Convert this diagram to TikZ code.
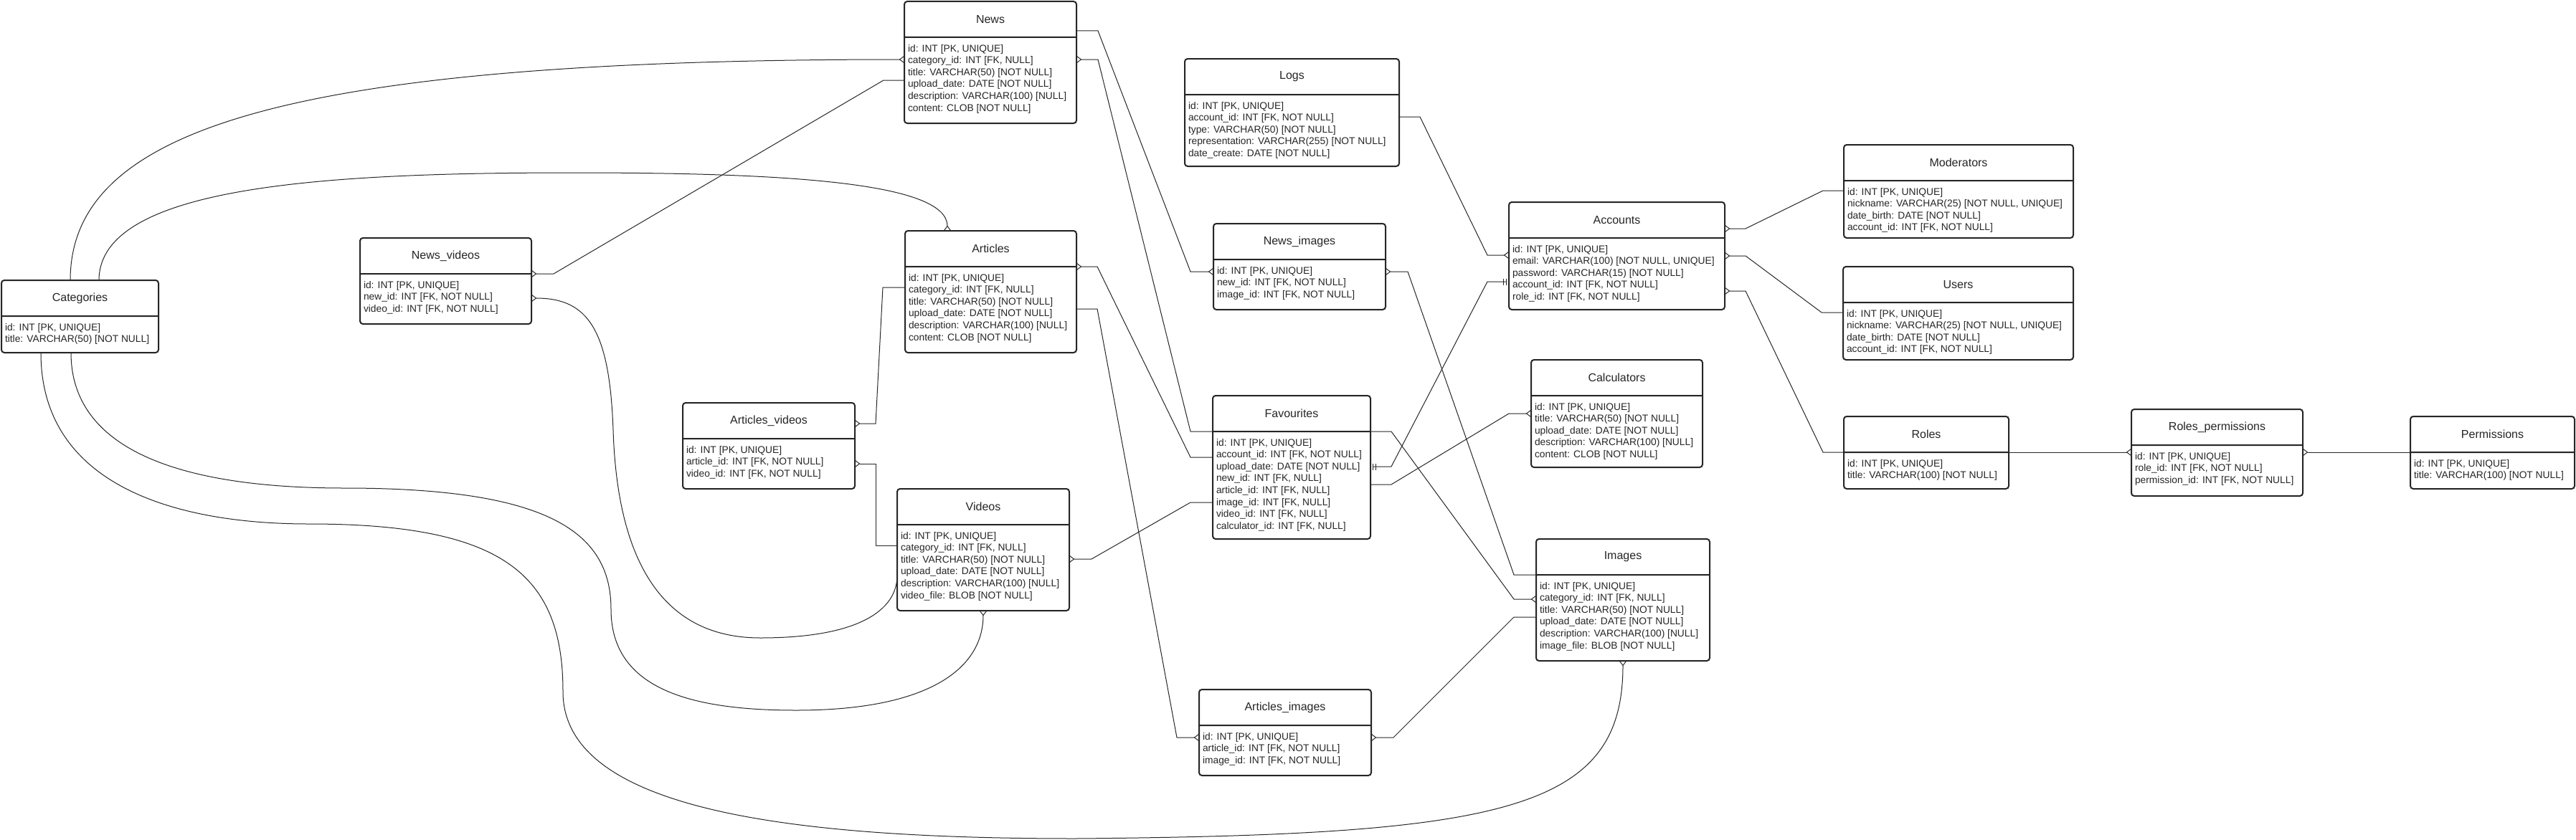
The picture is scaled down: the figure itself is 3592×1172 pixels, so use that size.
\documentclass[tikz,border=0pt]{standalone}
\usepackage{fontspec}
\setmainfont{Liberation Sans}
\usepackage{tikz}
\usetikzlibrary{shapes.multipart, arrows.meta, calc}

\newcommand{\ehead}[2]{\parbox[c][48pt][c]{#1pt}{\centering\fontsize{16pt}{19pt}\selectfont #2}}
\newcommand{\ebody}[3]{\parbox[c][\dimexpr#2pt-2pt\relax][t]{#1pt}{\fontsize{13.8pt}{16.6pt}\selectfont\raggedright\leftskip=5pt\rule{0pt}{19pt}#3}}

\tikzstyle{entity} = [rectangle split, rectangle split parts=2, draw=black!85, line width=2pt, rounded corners=4pt, inner sep=0pt, outer sep=0pt, anchor=north west, fill=white, text=black!85]
\tikzstyle{link} = [line width=1pt, draw=black!85]
\tikzset{crowfoot/.tip={Straight Barb[reversed, length=6pt, width=9pt, line width=1pt]}}
\tikzset{onebar/.tip={Bar[width=9pt, line width=1pt, sep=3pt] Bar[width=9pt, line width=1pt, sep=3pt]}}

\begin{document}
\begin{tikzpicture}[x=1pt, y=-1pt]
		\useasboundingbox (0,0) rectangle (3592,1172);
		
		% Content tables
		\node (news) [entity] at (1261,2) {\ehead{240}{News}\nodepart{two}\ebody{240}{120}{id: INT [PK, UNIQUE]\\ category\_id: INT [FK, NULL]\\ title: VARCHAR(50) [NOT NULL]\\ upload\_date: DATE [NOT NULL]\\ description: VARCHAR(100) [NULL]\\ content: CLOB [NOT NULL]}};
		\node (articles) [entity] at (1262,322) {\ehead{239}{Articles}\nodepart{two}\ebody{239}{120}{id: INT [PK, UNIQUE]\\ category\_id: INT [FK, NULL]\\ title: VARCHAR(50) [NOT NULL]\\ upload\_date: DATE [NOT NULL]\\ description: VARCHAR(100) [NULL]\\ content: CLOB [NOT NULL]}};
		\node (videos) [entity] at (1251,682) {\ehead{240}{Videos}\nodepart{two}\ebody{240}{120}{id: INT [PK, UNIQUE]\\ category\_id: INT [FK, NULL]\\ title: VARCHAR(50) [NOT NULL]\\ upload\_date: DATE [NOT NULL]\\ description: VARCHAR(100) [NULL]\\ video\_file: BLOB [NOT NULL]}};
		\node (images) [entity] at (2142,752) {\ehead{242}{Images}\nodepart{two}\ebody{242}{120}{id: INT [PK, UNIQUE]\\ category\_id: INT [FK, NULL]\\ title: VARCHAR(50) [NOT NULL]\\ upload\_date: DATE [NOT NULL]\\ description: VARCHAR(100) [NULL]\\ image\_file: BLOB [NOT NULL]}};
		\node (calculators) [entity] at (2135,502) {\ehead{239}{Calculators}\nodepart{two}\ebody{239}{100}{id: INT [PK, UNIQUE]\\ title: VARCHAR(50) [NOT NULL]\\ upload\_date: DATE [NOT NULL]\\ description: VARCHAR(100) [NULL]\\ content: CLOB [NOT NULL]}};
		\node (categories) [entity] at (2,391) {\ehead{219}{Categories}\nodepart{two}\ebody{219}{51}{id: INT [PK, UNIQUE]\\ title: VARCHAR(50) [NOT NULL]}};
		
		% Link tables
		\node (newsvideos) [entity] at (502,332) {\ehead{239}{News\_videos}\nodepart{two}\ebody{239}{70}{id: INT [PK, UNIQUE]\\ new\_id: INT [FK, NOT NULL]\\ video\_id: INT [FK, NOT NULL]}};
		\node (newsimages) [entity] at (1692,312) {\ehead{240}{News\_images}\nodepart{two}\ebody{240}{70}{id: INT [PK, UNIQUE]\\ new\_id: INT [FK, NOT NULL]\\ image\_id: INT [FK, NOT NULL]}};
		\node (articlesvideos) [entity] at (952,562) {\ehead{240}{Articles\_videos}\nodepart{two}\ebody{240}{70}{id: INT [PK, UNIQUE]\\ article\_id: INT [FK, NOT NULL]\\ video\_id: INT [FK, NOT NULL]}};
		\node (articlesimages) [entity] at (1672,962) {\ehead{240}{Articles\_images}\nodepart{two}\ebody{240}{70}{id: INT [PK, UNIQUE]\\ article\_id: INT [FK, NOT NULL]\\ image\_id: INT [FK, NOT NULL]}};
		\node (favourites) [entity] at (1691,552) {\ehead{220}{Favourites}\nodepart{two}\ebody{220}{150}{id: INT [PK, UNIQUE]\\ account\_id: INT [FK, NOT NULL]\\ upload\_date: DATE [NOT NULL]\\ new\_id: INT [FK, NULL]\\ article\_id: INT [FK, NULL]\\ image\_id: INT [FK, NULL]\\ video\_id: INT [FK, NULL]\\ calculator\_id: INT [FK, NULL]}};
		
		% Account tables
		\node (logs) [entity] at (1652,82) {\ehead{299}{Logs}\nodepart{two}\ebody{299}{100}{id: INT [PK, UNIQUE]\\ account\_id: INT [FK, NOT NULL]\\ type: VARCHAR(50) [NOT NULL]\\ representation: VARCHAR(255) [NOT NULL]\\ date\_create: DATE [NOT NULL]}};
		\node (accounts) [entity] at (2104,282) {\ehead{301}{Accounts}\nodepart{two}\ebody{301}{100}{id: INT [PK, UNIQUE]\\ email: VARCHAR(100) [NOT NULL, UNIQUE]\\ password: VARCHAR(15) [NOT NULL]\\ account\_id: INT [FK, NOT NULL]\\ role\_id: INT [FK, NOT NULL]}};
		\node (moderators) [entity] at (2571,202) {\ehead{320}{Moderators}\nodepart{two}\ebody{320}{80}{id: INT [PK, UNIQUE]\\ nickname: VARCHAR(25) [NOT NULL, UNIQUE]\\ date\_birth: DATE [NOT NULL]\\ account\_id: INT [FK, NOT NULL]}};
		\node (users) [entity] at (2570,372) {\ehead{321}{Users}\nodepart{two}\ebody{321}{80}{id: INT [PK, UNIQUE]\\ nickname: VARCHAR(25) [NOT NULL, UNIQUE]\\ date\_birth: DATE [NOT NULL]\\ account\_id: INT [FK, NOT NULL]}};
		\node (roles) [entity] at (2571,581) {\ehead{230}{Roles}\nodepart{two}\ebody{230}{51}{id: INT [PK, UNIQUE]\\ title: VARCHAR(100) [NOT NULL]}};
		\node (rolesperm) [entity] at (2972,571) {\ehead{239}{Roles\_permissions}\nodepart{two}\ebody{239}{71}{id: INT [PK, UNIQUE]\\ role\_id: INT [FK, NOT NULL]\\ permission\_id: INT [FK, NOT NULL]}};
		\node (permissions) [entity] at (3361,581) {\ehead{229}{Permissions}\nodepart{two}\ebody{229}{51}{id: INT [PK, UNIQUE]\\ title: VARCHAR(100) [NOT NULL]}};
		
		% Curved links from categories
		\draw [link, -crowfoot] ($(categories.north west)+(96,0)$) .. controls (98,180) and (400,83) .. ($(news.text split west)+(0,31)$);
		\draw [link, -crowfoot] ($(categories.north west)+(136,0)$) .. controls (138,260) and (450,241) .. (800,241) .. controls (1100,241) and (1321,255) .. ($(articles.north west)+(59,0)$);
		\draw [link, -crowfoot] ($(categories.south west)+(55,0)$) .. controls (57,680) and (250,731) .. (430,731) .. controls (700,731) and (785,800) .. (785,965) .. controls (785,1130) and (1100,1170) .. (1500,1170) .. controls (2100,1165) and (2263,1130) .. (images.south);
		\draw [link, -crowfoot] ($(categories.south west)+(97,0)$) .. controls (99,640) and (280,681) .. (480,681) .. controls (760,681) and (852,740) .. (852,850) .. controls (852,960) and (960,991) .. (1110,991) .. controls (1300,991) and (1371,930) .. (videos.south);
		\draw [link, crowfoot-] ($(newsvideos.text split east)+(0,34)$) .. controls (820,416) and (850,460) .. (855,600) .. controls (862,820) and (950,890) .. (1060,890) .. controls (1200,890) and (1251,850) .. ($(videos.text split west)+(0,71)$);
		
		% Links of news and articles
		\draw [link, crowfoot-] (newsvideos.text split east) -- ++(31,0) -- (1232,112) -- ($(news.text split west)+(0,60)$);
		\draw [link, crowfoot-] ($(articlesvideos.text split east)+(0,-21)$) -- ++(29,0) -- (1231,401) -- ($(articles.text split west)+(0,29)$);
		\draw [link, crowfoot-] ($(articlesvideos.text split east)+(0,35)$) -- ++(29,0) |- ($(videos.text split west)+(0,29)$);
		\draw [link, -crowfoot] ($(news.text split east)+(0,-9)$) -- ++(30,0) -- (1660,379) -- ($(newsimages.text split west)+(0,17)$);
		\draw [link, crowfoot-] ($(news.text split east)+(0,31)$) -- ++(30,0) -- (1660,602) -- (favourites.text split west);
		\draw [link, crowfoot-] (articles.text split east) -- ++(29,0) -- (1660,638) -- ($(favourites.text split west)+(0,36)$);
		\draw [link, -crowfoot] ($(articles.text split east)+(0,59)$) -- ++(29,0) -- (1641,1029) -- ($(articlesimages.text split west)+(0,17)$);
		
		% Links of favourites and images
		\draw [link, -crowfoot] ($(favourites.text split west)+(0,99)$) -- ++(-31,0) -- (1522,780) -- ($(videos.text split east)+(0,48)$);
		\draw [link, -crowfoot] (favourites.text split east) -- ++(29,0) -- (2111,836) -- ($(images.text split west)+(0,34)$);
		\draw [link, crowfoot-] ($(newsimages.text split east)+(0,17)$) -- ++(31,0) -- (2111,802) -- (images.text split west);
		\draw [link, crowfoot-] ($(articlesimages.text split east)+(0,17)$) -- ++(31,0) -- (2111,861) -- ($(images.text split west)+(0,59)$);
		\draw [link, onebar-onebar] ($(favourites.text split east)+(0,49)$) -- ++(29,0) -- (2074,393) -- ($(accounts.text split west)+(0,61)$);
		\draw [link, -crowfoot] ($(favourites.text split east)+(0,74)$) -- ++(29,0) -- (2104,577) -- ($(calculators.text split west)+(0,25)$);
		
		% Links of accounts
		\draw [link, -crowfoot] ($(logs.text split east)+(0,31)$) -- ++(29,0) -- (2074,356) -- ($(accounts.text split west)+(0,24)$);
		\draw [link, crowfoot-] ($(accounts.text split east)+(0,-13)$) -- ++(29,0) -- (2542,266) -- ($(moderators.text split west)+(0,14)$);
		\draw [link, crowfoot-] ($(accounts.text split east)+(0,25)$) -- ++(29,0) -- (2540,436) -- ($(users.text split west)+(0,14)$);
		\draw [link, crowfoot-] ($(accounts.text split east)+(0,74)$) -- ++(29,0) -- (2542,631) -- (roles.text split west);
		\draw [link, -crowfoot] (roles.text split east) -- ($(rolesperm.text split west)+(0,10)$);
		\draw [link, -crowfoot] (permissions.text split west) -- ($(rolesperm.text split east)+(0,10)$);
		
	\end{tikzpicture}
\end{document}
